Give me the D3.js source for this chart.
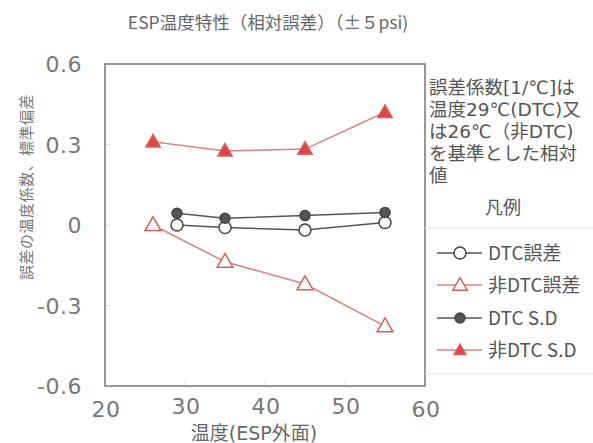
<!DOCTYPE html>
<html>
<head>
<meta charset="utf-8">
<script src="https://cdn.jsdelivr.net/npm/d3@7"></script>
<style>
  html, body { margin: 0; padding: 0; background: #fff; }
  svg text { font-family: "DejaVu Sans", "Noto Sans CJK JP", sans-serif; }
  svg text.cjk { font-family: "Noto Sans CJK JP", "DejaVu Sans", sans-serif; }
</style>
</head>
<body>
<svg id="chart" width="593" height="443"></svg>
<script>
// Temperatures (ESP surface, °C)
const tempDTC = [29, 35, 45, 55];
const tempNonDTC = [26, 35, 45, 55];

// Relative error coefficients and standard deviations
const dtcError = [0.0, -0.009, -0.019, 0.009];
const nonDtcError = [0.0, -0.137, -0.22, -0.377];
const dtcSD = [0.044, 0.025, 0.035, 0.047];
const nonDtcSD = [0.31, 0.276, 0.283, 0.42];

const xTicks = [20, 30, 40, 50, 60];
const yTicks = [0.6, 0.3, 0, -0.3, -0.6];
const yTickLabels = ["0.6", "0.3", "0", "-0.3", "-0.6"];

const noteLines = ["誤差係数[1/℃]は", "温度29℃(DTC)又", "は26℃（非DTC)", "を基準とした相対", "値"];

const series = [
  { name: "DTC誤差", x: tempDTC, y: dtcError, color: "#444", marker: "circle", filled: false },
  { name: "非DTC誤差", x: tempNonDTC, y: nonDtcError, color: "#d9605a", marker: "triangle", filled: false },
  { name: "DTC S.D", x: tempDTC, y: dtcSD, color: "#444", marker: "circle", filled: true },
  { name: "非DTC S.D", x: tempNonDTC, y: nonDtcSD, color: "#d9605a", marker: "triangle", filled: true }
];

const svg = d3.select("#chart");
const plot = { left: 105, top: 64, right: 425, bottom: 386 };

const x = d3.scaleLinear().domain([20, 60]).range([plot.left, plot.right]);
const y = d3.scaleLinear().domain([-0.6, 0.6]).range([plot.bottom, plot.top]);

// Title
svg.append("text")
  .attr("class", "cjk")
  .attr("x", 268).attr("y", 29)
  .attr("text-anchor", "middle")
  .attr("font-size", 17.5)
  .attr("fill", "#666")
  .text("ESP温度特性（相対誤差）（±５psi)");

// Faint inner ticks
const g = svg.append("g");
g.selectAll(".ytk").data(yTicks.slice(1, -1)).join("line")
  .attr("x1", plot.left).attr("x2", plot.left + 6)
  .attr("y1", d => y(d)).attr("y2", d => y(d))
  .attr("stroke", "#ddd").attr("stroke-width", 1);
g.selectAll(".xtk").data(xTicks.slice(1, -1)).join("line")
  .attr("x1", d => x(d)).attr("x2", d => x(d))
  .attr("y1", plot.bottom).attr("y2", plot.bottom - 6)
  .attr("stroke", "#ddd").attr("stroke-width", 1);

// Plot frame
svg.append("rect")
  .attr("x", plot.left).attr("y", plot.top)
  .attr("width", plot.right - plot.left).attr("height", plot.bottom - plot.top)
  .attr("fill", "none").attr("stroke", "#777").attr("stroke-width", 1.5);

// Y tick labels
svg.selectAll(".ylab").data(yTicks).join("text")
  .attr("x", 82).attr("y", d => y(d) + 8)
  .attr("text-anchor", "end")
  .attr("font-size", 22)
  .attr("fill", "#777")
  .attr("letter-spacing", 0.5)
  .text((d, i) => yTickLabels[i]);

// X tick labels
svg.selectAll(".xlab").data(xTicks).join("text")
  .attr("x", d => x(d) + 1)
  .attr("y", (d, i) => (i === 0 || i === 4) ? 417 : 414)
  .attr("text-anchor", "middle")
  .attr("font-size", 22)
  .attr("fill", "#777")
  .attr("letter-spacing", 0.5)
  .text(d => d);

// Axis titles
svg.append("text")
  .attr("x", 254).attr("y", 440)
  .attr("text-anchor", "middle")
  .attr("font-size", 19)
  .attr("fill", "#666")
  .text("温度(ESP外面)");

svg.append("text")
  .attr("class", "cjk")
  .attr("transform", "translate(32,187) rotate(-90)")
  .attr("text-anchor", "middle")
  .attr("font-size", 15)
  .attr("letter-spacing", 0.5)
  .attr("fill", "#777")
  .text("誤差の温度係数、標準偏差");

// Markers
function drawMarker(sel, s, size) {
  if (s.marker === "circle") {
    sel.append("circle").attr("r", s.filled ? 5 : 6)
      .attr("fill", s.filled ? "#555" : "#fff")
      .attr("stroke", s.color).attr("stroke-width", 1.5);
  } else {
    const sym = d3.symbol().type(d3.symbolTriangle).size(size);
    sel.append("path").attr("d", sym())
      .attr("transform", "translate(0,1)")
      .attr("fill", s.filled ? "#e04545" : "#fff")
      .attr("stroke", s.color).attr("stroke-width", 1.5);
  }
}

const line = d3.line().x(d => x(d[0])).y(d => y(d[1]));
series.forEach(s => {
  const pts = s.x.map((v, i) => [v, s.y[i]]);
  svg.append("path").datum(pts)
    .attr("d", line)
    .attr("fill", "none")
    .attr("stroke", s.color === "#444" ? "#555" : "#dd8080")
    .attr("stroke-width", 1.5);
  pts.forEach(p => {
    const m = svg.append("g").attr("transform", `translate(${x(p[0])},${y(p[1])})`);
    drawMarker(m, s, s.filled ? 90 : 110);
  });
});

// Note on the right
svg.selectAll(".note").data(noteLines).join("text")
  .attr("x", 429).attr("y", (d, i) => 94 + i * 22)
  .attr("font-size", 18.5)
  .attr("fill", "#555")
  .text(d => d);

svg.append("text")
  .attr("x", 503).attr("y", 214)
  .attr("text-anchor", "middle")
  .attr("font-size", 18)
  .attr("fill", "#555")
  .text("凡例");

// Legend box (faint)
svg.append("path")
  .attr("d", "M425,228 H593 M425,374 H593")
  .attr("stroke", "#e4e4e4").attr("stroke-width", 1).attr("fill", "none");

const legendY = [253, 285, 318, 350];
series.forEach((s, i) => {
  const ly = legendY[i];
  svg.append("line")
    .attr("x1", 437).attr("x2", 482).attr("y1", ly).attr("y2", ly)
    .attr("stroke", s.color === "#444" ? "#555" : "#dd8080").attr("stroke-width", 1.5);
  const m = svg.append("g").attr("transform", `translate(460,${ly})`);
  drawMarker(m, s, s.filled ? 60 : 90);
  svg.append("text")
    .attr("class", "cjk")
    .attr("x", 488).attr("y", ly + 7)
    .attr("font-size", 19)
    .attr("fill", "#555")
    .text(s.name);
});
</script>
</body>
</html>
